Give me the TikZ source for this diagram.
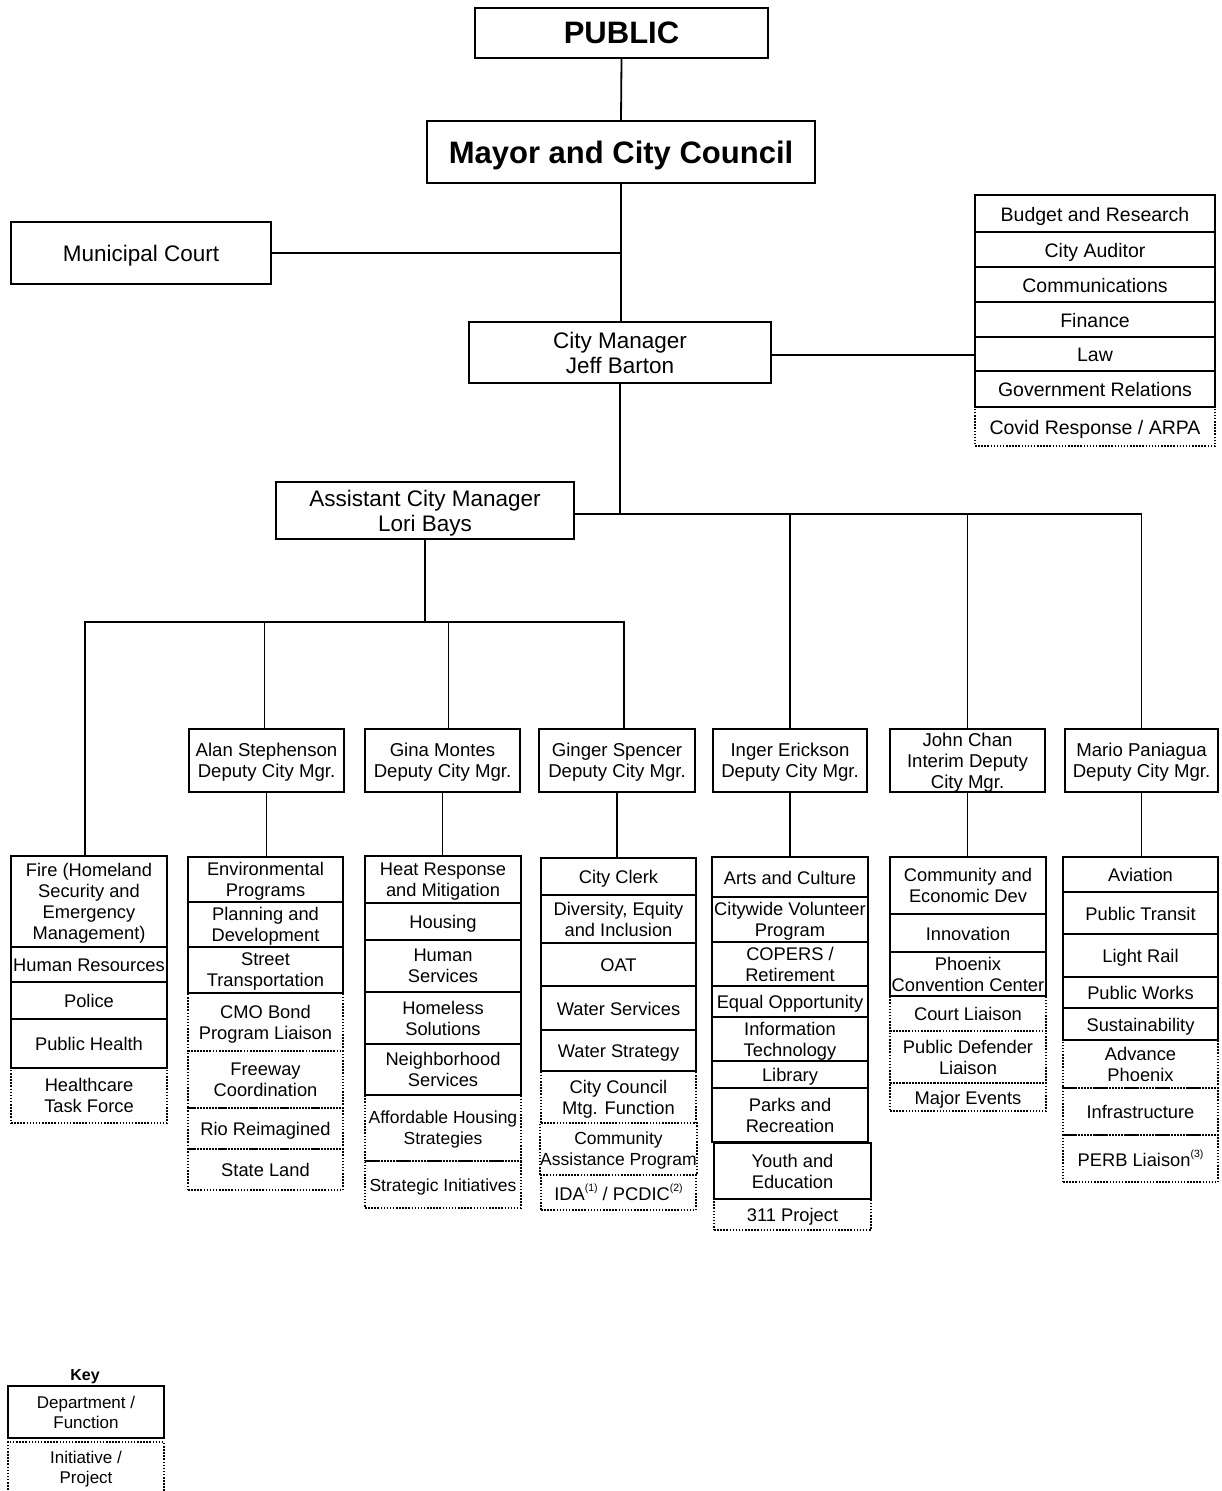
\documentclass[tikz,border=0pt]{standalone}
\usepackage{fontspec}
\setmainfont{Liberation Sans}
\newcommand\fsBig{\fontsize{31}{29}\selectfont\bfseries}
\newcommand\fsMid{\fontsize{22.5}{25}\selectfont}
\newcommand\fsRight{\fontsize{19.5}{22}\selectfont}
\newcommand\fsDep{\fontsize{18.6}{21}\selectfont}
\newcommand\fsCell{\fontsize{18.3}{21}\selectfont}
\newcommand\fsTight{\fontsize{17.5}{21}\selectfont}
\newcommand\fsKey{\fontsize{17}{20}\selectfont}
\newcommand\supnum[1]{\raisebox{0.5em}{\fontsize{10.5}{11}\selectfont(#1)}}
\tikzset{
  cellbase/.style={inner sep=0pt, align=center, text depth=0pt,
    execute at begin node=\strut, execute at end node=\strut},
  solidcell/.style={cellbase, draw, line width=2pt},
  dotcell/.style={cellbase, draw, line width=1.6pt, dash pattern=on 1.5pt off 1.6pt},
  conn/.style={line width=1.8pt},
}
% style, name, x1, y1, x2, y2, text
\newcommand\cellbox[7]{%
  \node[#1, minimum width={(#5-#3)*1pt}, minimum height={(#6-#4)*1pt}]
    (#2) at ({(#3+#5)/2},{(#4+#6)/2}) {#7};}
\begin{document}
\begin{tikzpicture}[x=1pt,y=-1pt]
\path[fill=white,use as bounding box] (0,0) rectangle (1221,1491);

% top levels
\cellbox{solidcell,font=\fsBig}{public}{475}{8}{768}{58}{PUBLIC}
\cellbox{solidcell,font=\fsBig}{mayor}{427}{121}{815}{183}{Mayor and City Council}
\cellbox{solidcell,font=\fsMid}{court}{11}{222}{271}{284}{Municipal Court}
\cellbox{solidcell,font=\fsMid}{cm}{469}{322}{771}{383}{City Manager\\Jeff Barton}
\cellbox{solidcell,font=\fsMid}{acm}{276}{482}{574}{539}{Assistant City Manager\\Lori Bays}

% right stack
\cellbox{dotcell,font=\fsRight}{covid}{975}{407}{1215}{446}{Covid Response / ARPA}
\cellbox{solidcell,font=\fsRight}{budget}{975}{195}{1215}{232}{Budget and Research}
\cellbox{solidcell,font=\fsRight}{auditor}{975}{232}{1215}{267}{City Auditor}
\cellbox{solidcell,font=\fsRight}{comms}{975}{267}{1215}{302}{Communications}
\cellbox{solidcell,font=\fsRight}{finance}{975}{302}{1215}{337}{Finance}
\cellbox{solidcell,font=\fsRight}{law}{975}{337}{1215}{371}{Law}
\cellbox{solidcell,font=\fsRight}{govrel}{975}{371}{1215}{407}{Government Relations}

% deputies
\cellbox{solidcell,font=\fsDep}{alan}{189}{729}{344}{792}{Alan Stephenson\\Deputy City Mgr.}
\cellbox{solidcell,font=\fsDep}{gina}{365}{729}{520}{792}{Gina Montes\\Deputy City Mgr.}
\cellbox{solidcell,font=\fsDep}{ginger}{539}{729}{695}{792}{Ginger Spencer\\Deputy City Mgr.}
\cellbox{solidcell,font=\fsDep}{inger}{713}{729}{867}{792}{Inger Erickson\\Deputy City Mgr.}
\cellbox{solidcell,font=\fsDep}{john}{890}{729}{1045}{792}{John Chan\\Interim Deputy\\City Mgr.}
\cellbox{solidcell,font=\fsDep}{mario}{1065}{729}{1218}{792}{Mario Paniagua\\Deputy City Mgr.}

% Fire stack
\cellbox{dotcell,font=\fsCell}{f5}{11}{1068}{167}{1123}{Healthcare\\Task Force}
\cellbox{solidcell,font=\fsCell}{f1}{11}{856}{167}{947}{Fire (Homeland\\Security and\\Emergency\\Management)}
\cellbox{solidcell,font=\fsCell}{f2}{11}{947}{167}{982}{Human Resources}
\cellbox{solidcell,font=\fsCell}{f3}{11}{982}{167}{1019}{Police}
\cellbox{solidcell,font=\fsCell}{f4}{11}{1019}{167}{1068}{Public Health}

% Alan stack
\cellbox{dotcell,font=\fsCell}{a4}{188}{993}{343}{1051}{CMO Bond\\Program Liaison}
\cellbox{dotcell,font=\fsCell}{a5}{188}{1051}{343}{1108}{Freeway\\Coordination}
\cellbox{dotcell,font=\fsCell}{a6}{188}{1108}{343}{1149}{Rio Reimagined}
\cellbox{dotcell,font=\fsCell}{a7}{188}{1149}{343}{1190}{State Land}
\cellbox{solidcell,font=\fsCell}{a1}{188}{857}{343}{902}{Environmental\\Programs}
\cellbox{solidcell,font=\fsCell}{a2}{188}{902}{343}{947}{Planning and\\Development}
\cellbox{solidcell,font=\fsCell}{a3}{188}{947}{343}{993}{Street\\Transportation}

% Gina stack
\cellbox{dotcell,font=\fsTight}{g6}{365}{1095}{521}{1161}{Affordable Housing\\Strategies}
\cellbox{dotcell,font=\fsTight}{g7}{365}{1161}{521}{1208}{Strategic Initiatives}
\cellbox{solidcell,font=\fsCell}{g1}{365}{856}{521}{903}{Heat Response\\and Mitigation}
\cellbox{solidcell,font=\fsCell}{g2}{365}{903}{521}{940}{Housing}
\cellbox{solidcell,font=\fsCell}{g3}{365}{940}{521}{992}{Human\\Services}
\cellbox{solidcell,font=\fsCell}{g4}{365}{992}{521}{1044}{Homeless\\Solutions}
\cellbox{solidcell,font=\fsCell}{g5}{365}{1044}{521}{1095}{Neighborhood\\Services}

% Ginger stack
\cellbox{dotcell,font=\fsCell}{s6}{541}{1071}{696}{1123}{City Council\\Mtg. Function}
\cellbox{dotcell,font=\fsTight}{s7}{541}{1123}{696}{1175}{Community\\Assistance Program}
\cellbox{dotcell,font=\fsCell}{s8}{541}{1175}{696}{1210}{IDA\supnum{1} / PCDIC\supnum{2}}
\cellbox{solidcell,font=\fsCell}{s1}{541}{858}{696}{895}{City Clerk}
\cellbox{solidcell,font=\fsCell}{s2}{541}{895}{696}{943}{Diversity, Equity\\and Inclusion}
\cellbox{solidcell,font=\fsCell}{s3}{541}{943}{696}{986}{OAT}
\cellbox{solidcell,font=\fsCell}{s4}{541}{986}{696}{1030}{Water Services}
\cellbox{solidcell,font=\fsCell}{s5}{541}{1030}{696}{1071}{Water Strategy}

% Inger stack
\cellbox{dotcell,font=\fsCell}{i9}{714}{1199}{871}{1230}{311 Project}
\cellbox{solidcell,font=\fsCell}{i1}{712}{857}{868}{897}{Arts and Culture}
\cellbox{solidcell,font=\fsCell}{i2}{712}{897}{868}{942}{Citywide Volunteer\\Program}
\cellbox{solidcell,font=\fsCell}{i3}{712}{942}{868}{986}{COPERS /\\Retirement}
\cellbox{solidcell,font=\fsCell}{i4}{712}{986}{868}{1017}{Equal Opportunity}
\cellbox{solidcell,font=\fsCell}{i5}{712}{1017}{868}{1061}{Information\\Technology}
\cellbox{solidcell,font=\fsCell}{i6}{712}{1061}{868}{1088}{Library}
\cellbox{solidcell,font=\fsCell}{i7}{712}{1088}{868}{1142}{Parks and\\Recreation}
\cellbox{solidcell,font=\fsCell}{i8}{714}{1143}{871}{1199}{Youth and\\Education}

% John stack
\cellbox{dotcell,font=\fsCell}{j4}{890}{996}{1046}{1031}{Court Liaison}
\cellbox{dotcell,font=\fsCell}{j5}{890}{1031}{1046}{1083}{Public Defender\\Liaison}
\cellbox{dotcell,font=\fsCell}{j6}{890}{1083}{1046}{1111}{Major Events}
\cellbox{solidcell,font=\fsCell}{j1}{890}{857}{1046}{914}{Community and\\Economic Dev}
\cellbox{solidcell,font=\fsCell}{j2}{890}{914}{1046}{952}{Innovation}
\cellbox{solidcell,font=\fsCell}{j3}{890}{952}{1046}{996}{Phoenix\\Convention Center}

% Mario stack
\cellbox{dotcell,font=\fsCell}{m6}{1063}{1040}{1218}{1088}{Advance\\Phoenix}
\cellbox{dotcell,font=\fsCell}{m7}{1063}{1088}{1218}{1135}{Infrastructure}
\cellbox{dotcell,font=\fsCell}{m8}{1063}{1135}{1218}{1182}{PERB Liaison\supnum{3}}
\cellbox{solidcell,font=\fsCell}{m1}{1063}{857}{1218}{892}{Aviation}
\cellbox{solidcell,font=\fsCell}{m2}{1063}{892}{1218}{934}{Public Transit}
\cellbox{solidcell,font=\fsCell}{m3}{1063}{934}{1218}{977}{Light Rail}
\cellbox{solidcell,font=\fsCell}{m4}{1063}{977}{1218}{1008}{Public Works}
\cellbox{solidcell,font=\fsCell}{m5}{1063}{1008}{1218}{1040}{Sustainability}

% key
\node[font=\fontsize{16}{18}\selectfont\bfseries] (keytitle) at (85,1377) {Key};
\cellbox{solidcell,font=\fsKey}{keydept}{8}{1386}{164}{1438}{Department /\\Function}
\cellbox{dotcell,font=\fsKey}{keyinit}{8}{1442}{164}{1493}{Initiative /\\Project}

% connectors
\coordinate (lbus) at (425,622);
\coordinate (rbus) at (620,514);
\draw[conn] (public.south) -- (mayor.north);
\draw[conn] (mayor.south) -- (mayor.south |- cm.north);
\draw[conn] (court.east) -- (court.east -| mayor.south);
\draw[conn] ([yshift=-2.5pt]cm.east) -- ([yshift=-2.5pt]cm.east -| law.west);
\draw[conn] (cm.south) -- (rbus);
\draw[conn] (acm.east |- rbus) -| (mario.north);
\draw[conn] (inger.north) -- (inger.north |- rbus);
\draw[conn] (john.north) -- (john.north |- rbus);
\draw[conn] (acm.south) -- (lbus);
\draw[conn] ([xshift=-4pt]f1.north) |- (lbus) -| ([xshift=7pt]ginger.north);
\draw[conn] ([xshift=-2pt]alan.north) -- ([xshift=-2pt]alan.north |- lbus);
\draw[conn] ([xshift=6pt]gina.north) -- ([xshift=6pt]gina.north |- lbus);
\draw[conn] (alan.south) -- (alan.south |- a1.north);
\draw[conn] (gina.south) -- (gina.south |- g1.north);
\draw[conn] (ginger.south) -- (ginger.south |- s1.north);
\draw[conn] (inger.south) -- (inger.south |- i1.north);
\draw[conn] (john.south) -- (john.south |- j1.north);
\draw[conn] (mario.south) -- (mario.south |- m1.north);
\end{tikzpicture}
\end{document}
